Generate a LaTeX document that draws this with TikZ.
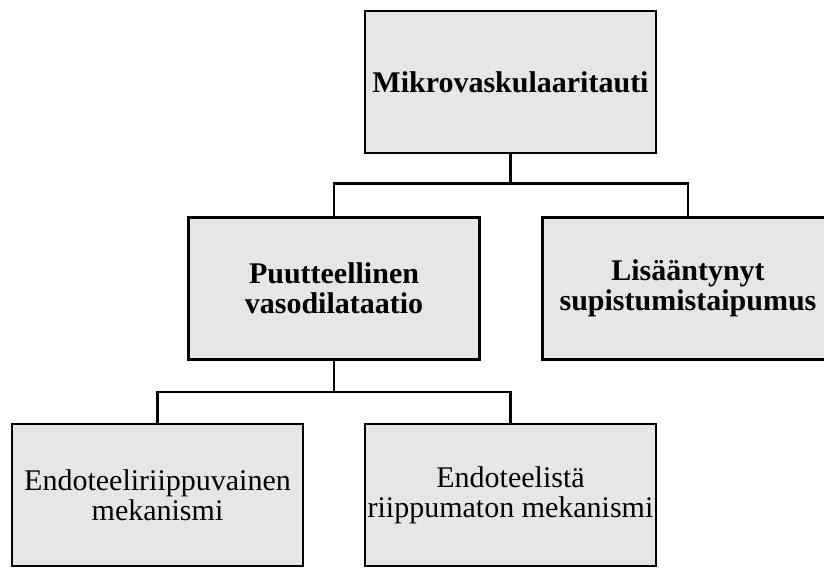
\documentclass[tikz,border=0pt]{standalone}
\usepackage{fontspec}
\setmainfont{Liberation Serif}
\definecolor{boxgray}{HTML}{E6E6E6}
\begin{document}
\begin{tikzpicture}[x=1pt,y=-1pt,
  box/.style={draw=black, line width=2.7pt, fill=boxgray, minimum width=291pt, minimum height=142pt, align=center, inner sep=0pt, font=\fontsize{30}{30}\selectfont},
  boldbox/.style={box, font=\fontsize{30}{30}\selectfont\bfseries},
  conn/.style={line width=2.7pt}]
\useasboundingbox (0,0) rectangle (824,570);
\clip (0,0) rectangle (824,570);
\node[boldbox] (a) at (510.5,82) {Mikrovaskulaaritauti};
\node[boldbox] (b) at (334,288.5) {Puutteellinen\\vasodilataatio};
\node[boldbox] (c) at (688,288.5) {Lisääntynyt\\supistumistaipumus};
\node[box] (d) at (157.5,495) {Endoteeliriippuvainen\\mekanismi};
\node[box] (e) at (510.5,495) {Endoteelistä\\riippumaton mekanismi};
\draw[conn] (a.south) -- ++(0,29) coordinate (j1);
\draw[conn] (b.north) |- (j1) -| (c.north);
\draw[conn] (b.south) -- ++(0,31) coordinate (j2);
\draw[conn] (d.north) |- (j2) -| (e.north);
\end{tikzpicture}
\end{document}
